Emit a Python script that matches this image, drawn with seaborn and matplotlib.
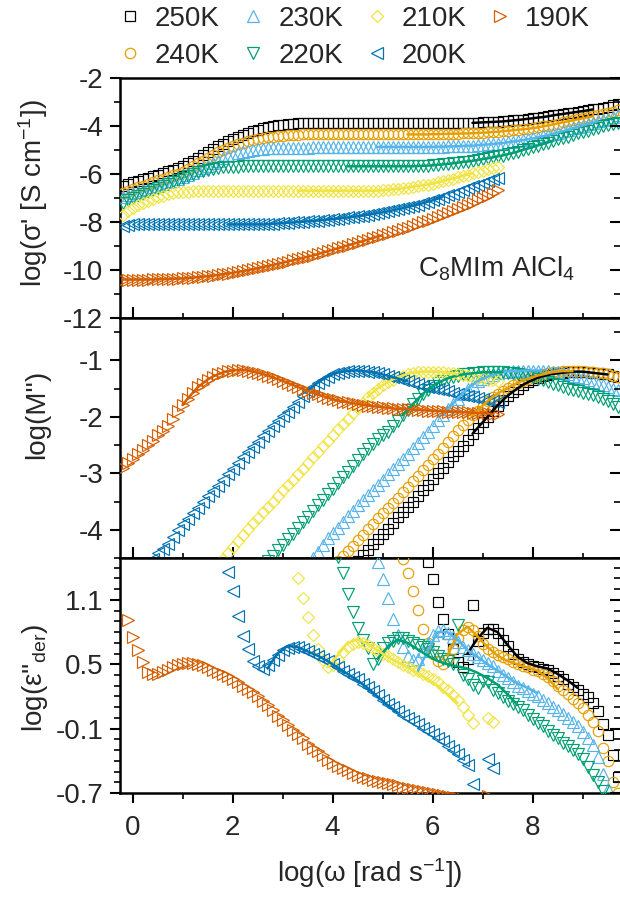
import numpy as np
import pandas as pd
import matplotlib
matplotlib.use('Agg')
import matplotlib.pyplot as plt
from matplotlib.lines import Line2D
from matplotlib.ticker import MultipleLocator, FixedLocator
import seaborn as sns

sns.set_theme(style='white')
plt.rcParams['font.family'] = ['Liberation Sans', 'DejaVu Sans']
plt.rcParams['mathtext.fontset'] = 'custom'
plt.rcParams['mathtext.rm'] = 'Liberation Sans'
plt.rcParams['mathtext.it'] = 'Liberation Sans:italic'
plt.rcParams['mathtext.default'] = 'regular'
plt.rcParams['axes.unicode_minus'] = False

NA = np.nan

# ---------------- data ----------------
TEMPS = ['250K', '240K', '230K', '220K', '210K', '200K', '190K']
COLORS = ['#000000', '#E69F00', '#56B4E9', '#009E73', '#F0E442', '#0072B2', '#D55E00']
MARKERS = ['s', 'o', '^', 'v', 'D', '<', '>']

# log(omega) measurement grid
LOGW = [-0.2, -0.1, 0.0, 0.1, 0.2, 0.3, 0.4, 0.5, 0.6, 0.7,
        0.8, 0.9, 1.0, 1.1, 1.2, 1.3, 1.4, 1.5, 1.6, 1.7,
        1.8, 1.9, 2.0, 2.1, 2.2, 2.3, 2.4, 2.5, 2.6, 2.7,
        2.8, 2.9, 3.0, 3.1, 3.2, 3.3, 3.4, 3.5, 3.6, 3.7,
        3.8, 3.9, 4.0, 4.1, 4.2, 4.3, 4.4, 4.5, 4.6, 4.7,
        4.8, 4.9, 5.0, 5.1, 5.2, 5.3, 5.4, 5.5, 5.6, 5.7,
        5.8, 5.9, 6.0, 6.1, 6.2, 6.3, 6.4, 6.5, 6.6, 6.7,
        6.8, 6.9, 7.0, 7.1, 7.2, 7.3, 7.4, 7.5, 7.6, 7.7,
        7.8, 7.9, 8.0, 8.1, 8.2, 8.3, 8.4, 8.5, 8.6, 8.7,
        8.8, 8.9, 9.0, 9.1, 9.2, 9.3, 9.4, 9.5, 9.6, 9.7]

# ---- panel 1: log(sigma') ----
SIG_250 = [-6.50, -6.43, -6.35, -6.28, -6.22, -6.16, -6.10, -6.03, -5.95, -5.89,
           -5.82, -5.74, -5.66, -5.56, -5.45, -5.33, -5.20, -5.08, -4.96, -4.85,
           -4.74, -4.64, -4.55, -4.46, -4.37, -4.30, -4.22, -4.16, -4.10, -4.05,
           -4.00, -3.97, -3.94, -3.92, -3.90, -3.89, -3.88, -3.88, -3.87, -3.87,
           -3.87, -3.87, -3.87, -3.87, -3.87, -3.87, -3.87, -3.87, -3.87, -3.87,
           -3.87, -3.87, -3.87, -3.87, -3.87, -3.87, -3.87, -3.87, -3.87, -3.87,
           -3.87, -3.87, -3.87, -3.87, -3.87, -3.87, -3.87, -3.87, -3.87, -3.87,
           -3.87, -3.86, -3.85, -3.84, -3.83, -3.82, -3.81, -3.79, -3.77, -3.75,
           -3.73, -3.70, -3.68, -3.65, -3.63, -3.60, -3.56, -3.53, -3.50, -3.47,
           -3.44, -3.41, -3.38, -3.35, -3.31, -3.28, -3.25, -3.20, -3.12, -3.08]
SIG_240 = [-6.80, -6.72, -6.63, -6.55, -6.48, -6.40, -6.33, -6.27, -6.20, -6.12,
           -6.05, -5.98, -5.90, -5.79, -5.68, -5.56, -5.45, -5.33, -5.22, -5.10,
           -5.00, -4.91, -4.83, -4.76, -4.69, -4.63, -4.58, -4.54, -4.50, -4.47,
           -4.44, -4.42, -4.40, -4.38, -4.37, -4.36, -4.35, -4.35, -4.35, -4.35,
           -4.35, -4.35, -4.35, -4.35, -4.35, -4.35, -4.35, -4.35, -4.35, -4.35,
           -4.35, -4.35, -4.35, -4.35, -4.35, -4.35, -4.35, -4.35, -4.35, -4.35,
           -4.35, -4.35, -4.34, -4.34, -4.33, -4.33, -4.32, -4.32, -4.31, -4.31,
           -4.30, -4.29, -4.28, -4.27, -4.25, -4.24, -4.22, -4.20, -4.18, -4.16,
           -4.14, -4.12, -4.09, -4.06, -4.02, -3.98, -3.94, -3.90, -3.85, -3.81,
           -3.77, -3.72, -3.68, -3.64, -3.60, -3.56, -3.52, -3.47, -3.40, -3.35]
SIG_230 = [-6.95, -6.88, -6.80, -6.74, -6.68, -6.62, -6.55, -6.49, -6.42, -6.35,
           -6.28, -6.20, -6.13, -6.04, -5.95, -5.85, -5.75, -5.65, -5.55, -5.45,
           -5.35, -5.27, -5.20, -5.14, -5.08, -5.04, -5.00, -4.97, -4.95, -4.93,
           -4.92, -4.91, -4.90, -4.90, -4.90, -4.90, -4.90, -4.90, -4.89, -4.89,
           -4.89, -4.89, -4.89, -4.89, -4.88, -4.88, -4.88, -4.88, -4.88, -4.88,
           -4.88, -4.87, -4.87, -4.87, -4.87, -4.87, -4.87, -4.87, -4.87, -4.87,
           -4.87, -4.87, -4.87, -4.86, -4.86, -4.85, -4.85, -4.84, -4.83, -4.82,
           -4.82, -4.80, -4.78, -4.77, -4.75, -4.73, -4.71, -4.68, -4.65, -4.62,
           -4.59, -4.55, -4.52, -4.48, -4.43, -4.38, -4.33, -4.28, -4.22, -4.16,
           -4.10, -4.04, -3.98, -3.92, -3.86, -3.80, -3.75, -3.69, -3.62, -3.56]
SIG_220 = [-7.20, -7.10, -7.00, -6.91, -6.82, -6.73, -6.65, -6.57, -6.50, -6.41,
           -6.33, -6.24, -6.15, -6.07, -6.00, -5.93, -5.86, -5.82, -5.78, -5.75,
           -5.72, -5.71, -5.70, -5.69, -5.68, -5.68, -5.68, -5.68, -5.68, -5.68,
           -5.68, -5.68, -5.68, -5.68, -5.68, -5.68, -5.68, -5.68, -5.68, -5.68,
           -5.68, -5.68, -5.68, -5.68, -5.68, -5.68, -5.68, -5.68, -5.68, -5.68,
           -5.68, -5.68, -5.68, -5.68, -5.68, -5.68, -5.68, -5.68, -5.68, -5.67,
           -5.66, -5.65, -5.64, -5.62, -5.60, -5.58, -5.56, -5.53, -5.50, -5.48,
           -5.45, -5.42, -5.38, -5.35, -5.31, -5.27, -5.23, -5.18, -5.13, -5.07,
           -5.00, -4.94, -4.88, -4.82, -4.75, -4.69, -4.62, -4.56, -4.50, -4.44,
           -4.38, -4.31, -4.25, -4.19, -4.13, -4.07, -4.02, -3.97, -3.92, -3.88]
SIG_210 = [-7.70, -7.55, -7.42, -7.30, -7.20, -7.11, -7.03, -6.96, -6.90, -6.85,
           -6.80, -6.77, -6.75, -6.73, -6.72, -6.71, -6.70, -6.70, -6.70, -6.70,
           -6.70, -6.70, -6.70, -6.70, -6.70, -6.70, -6.70, -6.70, -6.70, -6.70,
           -6.70, -6.70, -6.70, -6.70, -6.70, -6.70, -6.70, -6.70, -6.70, -6.70,
           -6.70, -6.70, -6.70, -6.70, -6.70, -6.70, -6.70, -6.70, -6.70, -6.70,
           -6.70, -6.69, -6.68, -6.66, -6.64, -6.62, -6.60, -6.57, -6.54, -6.51,
           -6.47, -6.44, -6.40, -6.35, -6.30, -6.25, -6.20, -6.14, -6.08, -6.03,
           -5.97, -5.92, -5.86, -5.81, -5.76, -5.71]
SIG_200 = [-8.15, -8.12, -8.10, -8.10, -8.10, -8.10, -8.10, -8.10, -8.10, -8.10,
           -8.10, -8.10, -8.10, -8.10, -8.10, -8.10, -8.10, -8.10, -8.10, -8.10,
           -8.10, -8.10, -8.10, -8.10, -8.10, -8.10, -8.10, -8.10, -8.10, -8.09,
           -8.08, -8.06, -8.05, -8.03, -8.02, -8.00, -7.99, -7.97, -7.96, -7.94,
           -7.92, -7.90, -7.88, -7.86, -7.84, -7.81, -7.79, -7.76, -7.73, -7.70,
           -7.67, -7.63, -7.60, -7.56, -7.52, -7.47, -7.43, -7.38, -7.33, -7.28,
           -7.22, -7.16, -7.10, -7.03, -6.96, -6.89, -6.82, -6.74, -6.67, -6.60,
           -6.52, -6.45, -6.37, -6.30, -6.22, -6.15]
SIG_190 = [-10.40, -10.40, -10.40, -10.40, -10.40, -10.40, -10.39, -10.39, -10.38, -10.38,
           -10.37, -10.36, -10.35, -10.34, -10.32, -10.30, -10.28, -10.26, -10.24, -10.21,
           -10.18, -10.15, -10.12, -10.08, -10.05, -10.01, -9.97, -9.93, -9.88, -9.84,
           -9.79, -9.75, -9.70, -9.65, -9.60, -9.55, -9.50, -9.45, -9.40, -9.34,
           -9.28, -9.22, -9.16, -9.10, -9.04, -8.98, -8.92, -8.86, -8.80, -8.74,
           -8.67, -8.61, -8.55, -8.49, -8.42, -8.36, -8.30, -8.23, -8.16, -8.09,
           -8.02, -7.95, -7.88, -7.80, -7.72, -7.63, -7.55, -7.47, -7.38, -7.29,
           -7.20, -7.10, -7.00, -6.90, -6.80, -6.68]
SIG_START = [-0.2, -0.2, -0.2, -0.2, -0.2, -0.2, -0.2]
SIG_FIT_FROM = [6.8, 5.5, 4.9, 4.3, 3.3, 1.9, -0.2]
SIG_FIT_TO = [9.2, 9.2, 9.3, 8.4, 6.8, 6.2, 5.0]

# ---- panel 2: log(M'') ----
M_250 = [-4.55, -4.45, -4.36, -4.26, -4.17, -4.07, -3.98, -3.88, -3.78, -3.69,
         -3.59, -3.50, -3.40, -3.30, -3.20, -3.10, -3.00, -2.90, -2.80, -2.70,
         -2.60, -2.51, -2.41, -2.30, -2.20, -2.10, -2.00, -1.90, -1.80, -1.71,
         -1.63, -1.56, -1.50, -1.44, -1.39, -1.35, -1.31, -1.28, -1.26, -1.24,
         -1.23, -1.22, -1.21, -1.20, -1.20, -1.20, -1.21, -1.22, -1.23, -1.24,
         -1.25, -1.27, -1.29]
M_240 = [-4.55, -4.47, -4.38, -4.28, -4.18, -4.09, -3.99, -3.90, -3.80, -3.71,
         -3.62, -3.52, -3.43, -3.33, -3.24, -3.14, -3.04, -2.95, -2.85, -2.75,
         -2.65, -2.55, -2.44, -2.34, -2.24, -2.15, -2.06, -1.97, -1.89, -1.80,
         -1.72, -1.65, -1.59, -1.54, -1.49, -1.44, -1.40, -1.36, -1.33, -1.30,
         -1.27, -1.25, -1.23, -1.21, -1.20, -1.19, -1.19, -1.19, -1.19, -1.19,
         -1.20, -1.21, -1.22, -1.23, -1.25, -1.27, -1.29]
M_230 = [-4.60, -4.50, -4.40, -4.27, -4.15, -4.06, -3.97, -3.86, -3.76, -3.66,
         -3.57, -3.48, -3.39, -3.30, -3.20, -3.11, -3.02, -2.93, -2.84, -2.75,
         -2.65, -2.56, -2.46, -2.36, -2.26, -2.16, -2.06, -1.96, -1.86, -1.77,
         -1.68, -1.59, -1.50, -1.43, -1.37, -1.33, -1.29, -1.26, -1.23, -1.21,
         -1.20, -1.19, -1.19, -1.18, -1.18, -1.18, -1.18, -1.18, -1.19, -1.20,
         -1.21, -1.23, -1.25, -1.27, -1.30, -1.32, -1.35, -1.38, -1.41, -1.44,
         -1.47, -1.50, -1.53]
M_220 = [-4.55, -4.46, -4.36, -4.27, -4.17, -4.07, -3.97, -3.87, -3.77, -3.67,
         -3.57, -3.47, -3.37, -3.27, -3.17, -3.07, -2.97, -2.87, -2.76, -2.66,
         -2.57, -2.48, -2.40, -2.33, -2.26, -2.16, -2.07, -1.97, -1.88, -1.78,
         -1.69, -1.60, -1.52, -1.46, -1.40, -1.36, -1.32, -1.29, -1.27, -1.25,
         -1.24, -1.23, -1.22, -1.21, -1.21, -1.21, -1.21, -1.21, -1.22, -1.23,
         -1.24, -1.26, -1.28, -1.30, -1.33, -1.35, -1.38, -1.41, -1.44, -1.47,
         -1.50, -1.52, -1.55, -1.57, -1.60, -1.62, -1.65, -1.68, -1.72, -1.77,
         -1.82]
M_210 = [-4.60, -4.51, -4.42, -4.31, -4.20, -4.09, -3.98, -3.88, -3.79, -3.69,
         -3.60, -3.50, -3.40, -3.30, -3.21, -3.11, -3.02, -2.92, -2.82, -2.72,
         -2.62, -2.52, -2.42, -2.32, -2.22, -2.12, -2.03, -1.94, -1.85, -1.75,
         -1.65, -1.57, -1.50, -1.44, -1.39, -1.34, -1.30, -1.27, -1.24, -1.22,
         -1.21, -1.20, -1.20, -1.20, -1.20, -1.21, -1.22, -1.23, -1.25, -1.26,
         -1.28, -1.29, -1.31, -1.32, -1.34, -1.35, -1.37]
M_200 = [-4.60, -4.51, -4.42, -4.34, -4.25, -4.12, -4.00, -3.90, -3.81, -3.71,
         -3.62, -3.51, -3.40, -3.31, -3.22, -3.12, -3.02, -2.92, -2.82, -2.72,
         -2.63, -2.53, -2.44, -2.34, -2.25, -2.16, -2.08, -1.99, -1.91, -1.82,
         -1.74, -1.64, -1.54, -1.47, -1.40, -1.34, -1.29, -1.25, -1.22, -1.20,
         -1.19, -1.18, -1.18, -1.19, -1.20, -1.21, -1.23, -1.25, -1.27, -1.30,
         -1.32, -1.35, -1.37, -1.40, -1.42, -1.45, -1.47, -1.49, -1.51, -1.53,
         -1.55, -1.57, -1.59, -1.61, -1.63, -1.65, -1.67, -1.68, -1.70, -1.72,
         -1.74]
M_190 = [-2.90, -2.82, -2.74, -2.65, -2.58, -2.50, -2.42, -2.33, -2.25, -2.16,
         -2.03, -1.90, -1.79, -1.68, -1.58, -1.48, -1.41, -1.34, -1.29, -1.25,
         -1.22, -1.19, -1.18, -1.17, -1.17, -1.18, -1.20, -1.22, -1.24, -1.27,
         -1.30, -1.33, -1.36, -1.40, -1.43, -1.47, -1.50, -1.54, -1.57, -1.60,
         -1.63, -1.66, -1.69, -1.71, -1.73, -1.74, -1.76, -1.77, -1.79, -1.80,
         -1.81, -1.82, -1.83, -1.84, -1.85, -1.86, -1.86, -1.87, -1.87, -1.88,
         -1.88, -1.89, -1.89, -1.90, -1.90, -1.91, -1.91, -1.92, -1.92, -1.92,
         -1.93, -1.93, -1.94, -1.94, -1.95, -1.95]
M_START = [4.5, 4.1, 3.5, 2.7, 1.7, 0.3, -0.2]
M_FIT_FROM = [6.8, 6.8, 6.3, 5.4, 4.7, 3.5, 1.0]
M_FIT_TO = [9.5, 8.8, 8.2, 7.4, 6.5, 5.5, 7.2]

# ---- panel 3: log(eps''_der) ----
EPS_250 = [1.45, 1.29, 1.08, 0.92, 0.78, 0.64, 0.52, 0.47, 0.55, 1.05,
           0.72, 0.79, 0.83, 0.83, 0.79, 0.73, 0.67, 0.60, 0.55, 0.52,
           0.50, 0.48, 0.47, 0.46, 0.45, 0.42, 0.39, 0.36, 0.32, 0.29,
           0.26, 0.22, 0.19, 0.14, 0.06, -0.06, -0.16, -0.35, -0.55]
EPS_240 = [1.48, 1.35, 1.18, 1.01, 0.83, 0.70, 0.60, 0.53, 0.50, 0.55,
           0.64, 0.74, 0.82, 0.85, 0.82, 0.76, 0.69, 0.64, 0.61, 0.59,
           0.57, 0.55, 0.52, 0.50, 0.48, 0.47, 0.45, 0.44, 0.41, 0.38,
           0.34, 0.30, 0.26, 0.22, 0.18, 0.14, 0.09, 0.03, -0.04, -0.12,
           -0.28, -0.40, -0.60, -0.70]
EPS_230 = [1.45, 1.29, 1.12, 0.92, 0.77, 0.66, 0.58, 0.54, 0.55, 0.62,
           0.70, 0.77, 0.81, 0.82, 0.79, 0.75, 0.71, 0.66, 0.63, 0.60,
           0.57, 0.54, 0.51, 0.48, 0.44, 0.40, 0.37, 0.33, 0.30, 0.28,
           0.25, 0.22, 0.20, 0.17, 0.14, 0.10, 0.07, 0.04, 0.00, -0.04,
           -0.08, -0.13, -0.19, -0.25, -0.36, -0.52, -0.66, -0.78]
EPS_220 = [1.50, 1.35, 1.15, 0.99, 0.84, 0.73, 0.65, 0.50, 0.55, 0.65,
           0.70, 0.72, 0.74, 0.74, 0.72, 0.70, 0.68, 0.66, 0.64, 0.61,
           0.58, 0.55, 0.53, 0.50, 0.87, 0.40, 0.36, 0.31, 0.28, 0.34,
           0.33, 0.26, 0.23, 0.19, 0.16, 0.13, 0.10, 0.07, 0.03, -0.01,
           -0.05, -0.08, -0.12, -0.16, -0.19, -0.23, -0.26, -0.30, -0.34, -0.38,
           -0.46, -0.53, -0.60, -0.68, -0.75]
EPS_210 = [1.30, 1.12, 0.94, 0.77, 0.64, 0.54, 0.47, 0.49, 0.55, 0.61,
           0.66, 0.69, 0.71, 0.70, 0.68, 0.65, 0.62, 0.60, 0.58, 0.55,
           0.52, 0.49, 0.47, 0.45, 0.44, 0.41, 0.39, 0.36, 0.33, 0.29,
           0.26, 0.21, 0.17, 0.10, 0.03, -0.05, NA, NA, 0.00, -0.04]
EPS_200 = [1.36, 1.18, 0.95, 0.76, 0.64, 0.53, 0.48, 0.46, 0.49, 0.54,
           0.59, 0.63, 0.65, 0.66, 0.66, 0.64, 0.62, 0.60, 0.58, 0.55,
           0.53, 0.50, 0.47, 0.44, 0.41, 0.38, 0.36, 0.32, 0.29, 0.25,
           0.21, 0.17, 0.13, 0.10, 0.06, 0.03, 0.00, -0.03, -0.06, -0.09,
           -0.12, -0.15, -0.19, -0.22, -0.26, -0.30, -0.34, -0.39, -0.44, -0.62,
           NA, NA, -0.38, -0.47]
EPS_190 = [0.91, 0.75, 0.63, 0.52, 0.43, 0.41, 0.41, 0.43, 0.45, 0.47,
           0.49, 0.50, 0.51, 0.51, 0.50, 0.49, 0.47, 0.45, 0.43, 0.41,
           0.39, 0.36, 0.33, 0.30, 0.27, 0.24, 0.20, 0.16, 0.12, 0.07,
           0.02, -0.02, -0.07, -0.11, -0.15, -0.19, -0.24, -0.28, -0.31, -0.35,
           -0.39, -0.42, -0.45, -0.47, -0.49, -0.51, -0.53, -0.55, -0.56, -0.58,
           -0.59, -0.60, -0.61, -0.62, -0.63, -0.64, -0.65, -0.66, -0.67, -0.68,
           -0.69, -0.70, -0.71, -0.72, -0.73, -0.74, -0.75, -0.76, -0.77, -0.78,
           NA, NA, -0.73]
EPS_START = [5.9, 5.4, 4.9, 4.1, 3.3, 1.9, -0.1]

# panel 3 fit curves (sampled every 0.2 decade)
EPS_FIT_250 = [0.60, 0.74, 0.84, 0.80, 0.68, 0.57, 0.51, 0.48, 0.46, 0.41, 0.35, 0.28]
EPS_FIT_240 = [0.58, 0.78, 0.85, 0.76, 0.66, 0.58, 0.53, 0.50, 0.47, 0.44, 0.37, 0.27]
EPS_FIT_230 = [0.43, 0.62, 0.80, 0.80, 0.73, 0.63, 0.57, 0.50, 0.44, 0.38, 0.32, 0.28, 0.23]
EPS_FIT_220 = [0.55, 0.66, 0.73, 0.70, 0.64, 0.58, 0.53, 0.50, 0.48, 0.46, 0.42, 0.37, 0.31, 0.22, 0.12]
EPS_FIT_210 = [0.47, 0.58, 0.70, 0.73, 0.69, 0.63, 0.57, 0.52, 0.47, 0.42, 0.36, 0.30, 0.22, 0.14]
EPS_FIT_200 = [0.46, 0.60, 0.67, 0.66, 0.62, 0.58, 0.53, 0.47, 0.41, 0.35, 0.28, 0.20, 0.12, 0.05]
EPS_FIT_START = [6.7, 6.3, 5.7, 4.9, 3.9, 2.7]

SIG = [SIG_250, SIG_240, SIG_230, SIG_220, SIG_210, SIG_200, SIG_190]
MPP = [M_250, M_240, M_230, M_220, M_210, M_200, M_190]
EPS = [EPS_250, EPS_240, EPS_230, EPS_220, EPS_210, EPS_200, EPS_190]
EPS_FIT = [EPS_FIT_250, EPS_FIT_240, EPS_FIT_230, EPS_FIT_220, EPS_FIT_210, EPS_FIT_200]

GRID = np.array(LOGW)
FIT_GRID = GRID[1::2]


def frame(start, vals, grid=GRID):
    i0 = int(np.argmin(np.abs(grid - start)))
    xs = grid[i0:i0 + len(vals)]
    return pd.DataFrame({'logw': xs, 'val': vals[:len(xs)]})


MS = {'s': 7.0, 'o': 7.5, '^': 8.0, 'v': 8.0, 'D': 6.0, '<': 8.0, '>': 8.0}


def draw_markers(ax, df, color, marker):
    df = df.dropna()
    sns.lineplot(data=df, x='logw', y='val', ax=ax, estimator=None, sort=False,
                 linestyle='none', marker=marker, markersize=MS[marker],
                 markerfacecolor='none', markeredgecolor=color,
                 markeredgewidth=0.85, color=color, legend=False, zorder=3)


def draw_line(ax, df, color):
    sns.lineplot(data=df, x='logw', y='val', ax=ax, estimator=None, sort=False,
                 color=color, linewidth=1.8, legend=False, zorder=4)


# ---------------- figure ----------------
fig = plt.figure(figsize=(6.2, 8.99), dpi=100)
L, Wd = 120 / 620, 500 / 620
ax1 = fig.add_axes([L, 1 - 318 / 899, Wd, 240 / 899])
ax2 = fig.add_axes([L, 1 - 558 / 899, Wd, 240 / 899])
ax3 = fig.add_axes([L, 1 - 793 / 899, Wd, 235 / 899])

for k in range(len(TEMPS)):
    c, m = COLORS[k], MARKERS[k]
    d = frame(SIG_START[k], SIG[k])
    draw_markers(ax1, d, c, m)
    draw_line(ax1, d[(d.logw >= SIG_FIT_FROM[k] - 1e-6) & (d.logw <= SIG_FIT_TO[k] + 1e-6)], c)
    d = frame(M_START[k], MPP[k])
    draw_markers(ax2, d, c, m)
    draw_line(ax2, d[(d.logw >= M_FIT_FROM[k] - 1e-6) & (d.logw <= M_FIT_TO[k] + 1e-6)], c)
    d = frame(EPS_START[k], EPS[k])
    draw_markers(ax3, d, c, m)
    if k < len(EPS_FIT):
        draw_line(ax3, frame(EPS_FIT_START[k], EPS_FIT[k], FIT_GRID), c)

FS = 20
ylims = [(-12, -2), (-4.5, -0.25), (-0.7, 1.49)]
ymaj = [[-12, -10, -8, -6, -4, -2], [-4, -3, -2, -1], [-0.7, -0.1, 0.5, 1.1]]
ymin = [1.0, 0.5, 0.1]
ylabels = ["log(σ' [S cm$^{-1}$])", "log(M'')", "log(ε''$_{der}$)"]
ylab_y = [0.52, 0.60, 0.49]

for i, ax in enumerate((ax1, ax2, ax3)):
    ax.set_xlim(-0.25, 9.75)
    ax.set_ylim(*ylims[i])
    ax.xaxis.set_major_locator(MultipleLocator(2))
    ax.xaxis.set_minor_locator(MultipleLocator(1))
    ax.yaxis.set_major_locator(FixedLocator(ymaj[i]))
    ax.yaxis.set_minor_locator(MultipleLocator(ymin[i]))
    ax.set_yticklabels([('%g' % v) for v in ymaj[i]])
    for s in ('left', 'bottom', 'top'):
        ax.spines[s].set_visible(True)
        ax.spines[s].set_linewidth(1.8)
        ax.spines[s].set_color('black')
    ax.spines['right'].set_visible(False)
    ax.tick_params(axis='y', which='major', left=True, right=False, direction='out',
                   length=7, width=1.5, labelsize=FS, pad=5, color='black')
    ax.tick_params(axis='y', which='minor', left=True, right=False, direction='out',
                   length=4, width=1.2, color='black')
    if i < 2:
        ax.tick_params(axis='x', which='major', bottom=True, top=False, direction='inout',
                       length=16, width=1.5, labelbottom=False, color='black')
        ax.tick_params(axis='x', which='minor', bottom=True, top=False, direction='inout',
                       length=7, width=1.2, color='black')
    else:
        ax.tick_params(axis='x', which='major', bottom=True, top=False, direction='out',
                       length=7, width=1.5, labelsize=FS, pad=9, color='black')
        ax.tick_params(axis='x', which='minor', bottom=True, top=False, direction='out',
                       length=4, width=1.2, color='black')
    ax.set_xlabel('')
    ax.set_ylabel(ylabels[i], fontsize=FS)
    ax.yaxis.set_label_coords(-0.14, ylab_y[i])
    ax.grid(False)
    tw = ax.twinx()
    tw.set_ylim(*ylims[i])
    tw.yaxis.set_major_locator(FixedLocator(ymaj[i]))
    tw.yaxis.set_minor_locator(MultipleLocator(ymin[i]))
    tw.tick_params(axis='y', which='major', right=True, direction='in', length=7,
                   width=1.5, labelright=False, color='black')
    tw.tick_params(axis='y', which='minor', right=True, direction='in', length=4,
                   width=1.2, color='black')
    for s in tw.spines.values():
        s.set_visible(False)
    tw.grid(False)

ax3.set_xlabel('log(ω [rad s$^{-1}$])', fontsize=FS)
ax3.xaxis.set_label_coords(0.5, -0.27)

ax1.text(5.7, -10.29, 'C$_8$MIm AlCl$_4$', fontsize=FS, ha='left', va='baseline')

handles = [Line2D([], [], linestyle='none', marker=MARKERS[k], markersize=MS[MARKERS[k]],
                  markerfacecolor='none', markeredgecolor=COLORS[k], markeredgewidth=0.9)
           for k in range(len(TEMPS))]
fig.legend(handles, TEMPS, ncol=4, loc='upper left', bbox_to_anchor=(119 / 620, 1 - 3 / 899),
           frameon=False, fontsize=FS, handlelength=0.6, handletextpad=0.6,
           columnspacing=0.9, labelspacing=0.4, borderpad=0.1, borderaxespad=0)

fig.savefig('out.png', dpi=100)
